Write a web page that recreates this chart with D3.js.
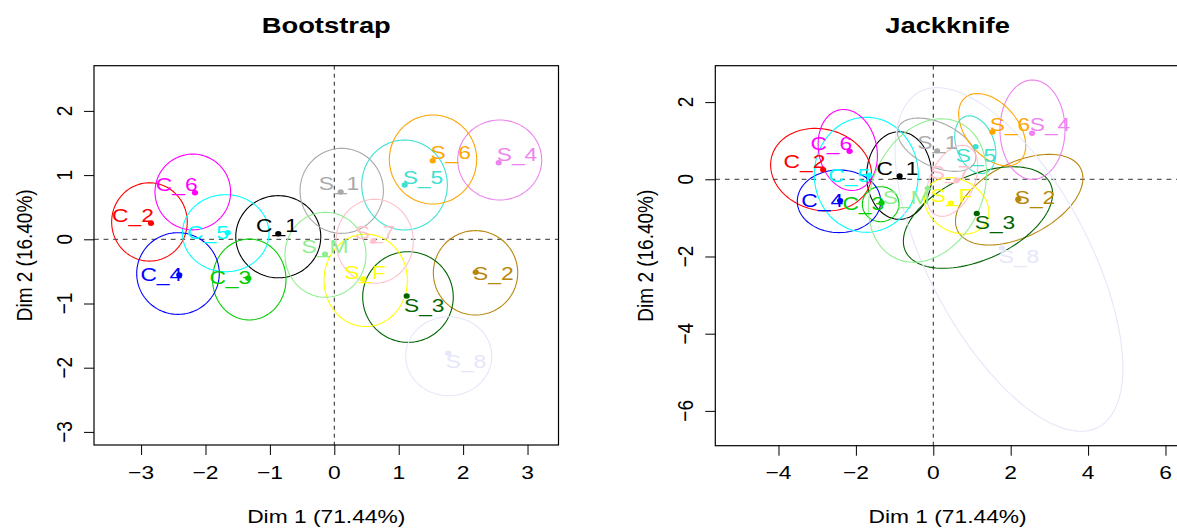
<!DOCTYPE html>
<html><head><meta charset="utf-8">
<script src="https://cdn.jsdelivr.net/npm/d3@7"></script>
<style>body{margin:0;background:#fff}svg{display:block}text{font-family:"Liberation Sans",Arial,sans-serif}</style>
</head><body>
<script>
// ---- data ----
const names = ["C_1","C_2","C_3","C_4","C_5","C_6","S_1","S_2","S_3","S_4","S_5","S_6","S_7","S_8","S_F","S_M"];
const colors = ["#000000","#FF0000","#00CD00","#0000FF","#00FFFF","#FF00FF","#A9A9A9","#B8860B","#006400","#EE82EE","#40E0D0","#FFA500","#FFC0CB","#E6E6FA","#FFFF00","#90EE90"];
const dim1 = [-0.87,-2.846,-1.335,-2.407,-1.655,-2.163,0.099,2.196,1.124,2.553,1.093,1.528,0.606,1.77,0.45,-0.144];
const dim2 = [0.087,0.249,-0.607,-0.556,0.103,0.726,0.737,-0.514,-0.883,1.193,0.846,1.224,-0.026,-1.776,-0.618,-0.234];

// bootstrap ellipses
const bootCx = [-0.87,-2.87,-1.32,-2.427,-1.686,-2.197,0.115,2.193,1.144,2.568,1.09,1.533,0.627,1.777,0.487,-0.137];
const bootCy = [0.04,0.27,-0.626,-0.533,0.095,0.737,0.755,-0.522,-0.899,1.235,0.846,1.243,-0.031,-1.821,-0.639,-0.241];
const bootRx = [0.66,0.587,0.57,0.641,0.672,0.587,0.647,0.655,0.703,0.652,0.665,0.678,0.6,0.668,0.647,0.629];
const bootRy = [0.64,0.61,0.63,0.636,0.60,0.59,0.662,0.657,0.706,0.623,0.70,0.693,0.654,0.615,0.72,0.662];
const bootLabX = [-0.89,-3.126,-1.615,-2.686,-1.961,-2.447,0.073,2.469,1.396,2.837,1.377,1.807,0.632,2.045,0.477,-0.144];
const bootLabY = [0.22,0.38,-0.587,-0.551,0.118,0.861,0.872,-0.53,-1.019,1.329,0.967,1.352,0.106,-1.893,-0.505,-0.101];

// jackknife ellipses
const jackCx = [-0.881,-2.90,-1.36,-2.437,-1.731,-2.21,0.088,2.22,1.155,2.563,1.085,1.522,0.488,1.956,0.605,-0.15];
const jackCy = [0.098,0.249,-0.645,-0.57,0.117,0.759,0.896,-0.528,-0.99,1.285,0.896,1.285,-0.04,-2.077,-0.687,-0.29];
const jackRx = [0.84,1.32,0.473,1.077,1.344,0.75,1.085,1.783,2.067,0.84,0.775,1.085,0.98,4.92,0.879,1.94];
const jackRy = [1.135,1.05,0.453,0.811,1.49,1.06,0.57,0.956,1.085,1.287,0.49,0.672,0.57,2.065,0.672,1.42];
const jackAngle = [0,-15,0,0,0,12,-25,27,25,0,110,-50,65,-62,-30,65];
const jackLabX = [-0.925,-3.328,-1.809,-2.871,-2.173,-2.636,0.109,2.628,1.594,3.016,1.103,1.982,0.432,2.215,0.475,-0.698];
const jackLabY = [0.293,0.466,-0.622,-0.536,0.119,0.933,0.953,-0.472,-1.119,1.427,0.637,1.427,0.176,-1.98,-0.407,-0.472];

const bootXTicks = [-3,-2,-1,0,1,2,3];
const bootYTicks = [-3,-2,-1,0,1,2];
const jackXTicks = [-4,-2,0,2,4,6];
const jackYTicks = [-6,-4,-2,0,2];
const titles = ["Bootstrap","Jackknife"];
const xLabel = "Dim 1 (71.44%)";
const yLabel = "Dim 2 (16.40%)";

// ---- drawing ----
const W = 1177, H = 528, SX = 1.2, FS = 19;
const svg = d3.select("body").append("svg").attr("width", W).attr("height", H);

function txt(g, x, y, s, o = {}) {
  const t = g.append("text")
    .attr("transform", `translate(${x},${y}) scale(${SX},1)` + (o.rot ? " rotate(-90)" : ""))
    .attr("text-anchor", o.anchor || "middle")
    .attr("font-size", o.size || FS)
    .attr("fill", o.fill || "#000")
    .text(s);
  if (o.bold) t.attr("font-weight", "bold");
  return t;
}
const fmt = v => (v < 0 ? "\u2212" + Math.abs(v) : String(v));

function panel(cfg) {
  const g = svg.append("g");
  const x = d3.scaleLinear().domain(cfg.xd).range(cfg.xr);
  const y = d3.scaleLinear().domain(cfg.yd).range(cfg.yr);
  const [x0, x1] = cfg.xr, [y1, y0] = cfg.yr;
  const clipId = "clip" + cfg.id;
  g.append("clipPath").attr("id", clipId).append("rect")
    .attr("x", x0).attr("y", y0).attr("width", x1 - x0).attr("height", y1 - y0);
  const inner = g.append("g").attr("clip-path", `url(#${clipId})`);

  // dashed reference lines
  inner.append("line").attr("x1", x0).attr("x2", x1).attr("y1", y(0)).attr("y2", y(0))
    .attr("stroke", "#333").attr("stroke-width", 1).attr("stroke-dasharray", "4.8,4.8");
  inner.append("line").attr("x1", x(0)).attr("x2", x(0)).attr("y1", y0).attr("y2", y1)
    .attr("stroke", "#222").attr("stroke-width", 1).attr("stroke-dasharray", "4,4");

  // ellipses
  const line = d3.line().x(d => x(d[0])).y(d => y(d[1]));
  const ts = d3.range(0, 361, 3).map(d => d * Math.PI / 180);
  names.forEach((n, i) => {
    const a = (cfg.ang ? cfg.ang[i] : 0) * Math.PI / 180;
    const pts = ts.map(t => {
      const ex = cfg.rx[i] * Math.cos(t), ey = cfg.ry[i] * Math.sin(t);
      return [cfg.cx[i] + ex * Math.cos(a) - ey * Math.sin(a), cfg.cy[i] + ex * Math.sin(a) + ey * Math.cos(a)];
    });
    inner.append("path").attr("d", line(pts)).attr("fill", "none")
      .attr("stroke", colors[i]).attr("stroke-width", 1.1);
  });
  // points
  names.forEach((n, i) => {
    inner.append("ellipse").attr("cx", x(dim1[i])).attr("cy", y(dim2[i]))
      .attr("rx", 3.1).attr("ry", 2.7).attr("fill", colors[i]);
  });
  // labels
  names.forEach((n, i) => {
    txt(inner, x(cfg.lx[i]), y(cfg.ly[i]) + 6.8, n, { fill: colors[i] });
  });

  // box
  g.append("rect").attr("x", x0).attr("y", y0).attr("width", x1 - x0).attr("height", y1 - y0)
    .attr("fill", "none").attr("stroke", "#000").attr("stroke-width", 1.2);

  // axes
  const ax = d3.axisBottom(x).tickValues(cfg.xt).tickSize(10).tickFormat("");
  const axg = g.append("g").attr("transform", `translate(0,${y1})`).call(ax);
  axg.select(".domain").remove();
  axg.selectAll("line").attr("stroke", "#000");
  cfg.xt.forEach(v => txt(g, x(v), 479, fmt(v)));
  const ay = d3.axisLeft(y).tickValues(cfg.yt).tickSize(10).tickFormat("");
  const ayg = g.append("g").attr("transform", `translate(${x0},0)`).call(ay);
  ayg.select(".domain").remove();
  ayg.selectAll("line").attr("stroke", "#000");
  cfg.yt.forEach(v => txt(g, x0 - 22.5, y(v), fmt(v), { rot: true }));

  // titles / axis labels
  const cxm = (x0 + x1) / 2;
  txt(g, cxm, 32.5, cfg.title, { bold: true, size: FS * 1.2 });
  txt(g, cxm, 523, xLabel);
  txt(g, x0 - 62.5, (y0 + y1) / 2, yLabel, { rot: true });
}

panel({ id: 1, title: titles[0], xd: [-3.731, 3.481], xr: [94, 558.5], yd: [-3.204, 2.704], yr: [445, 65.7],
  xt: bootXTicks, yt: bootYTicks, cx: bootCx, cy: bootCy, rx: bootRx, ry: bootRy, lx: bootLabX, ly: bootLabY });
panel({ id: 2, title: titles[1], xd: [-5.633, 6.370], xr: [715.3, 1179.8], yd: [-6.902, 2.943], yr: [445.7, 65.7],
  xt: jackXTicks, yt: jackYTicks, cx: jackCx, cy: jackCy, rx: jackRx, ry: jackRy, ang: jackAngle, lx: jackLabX, ly: jackLabY });
</script>
</body></html>
